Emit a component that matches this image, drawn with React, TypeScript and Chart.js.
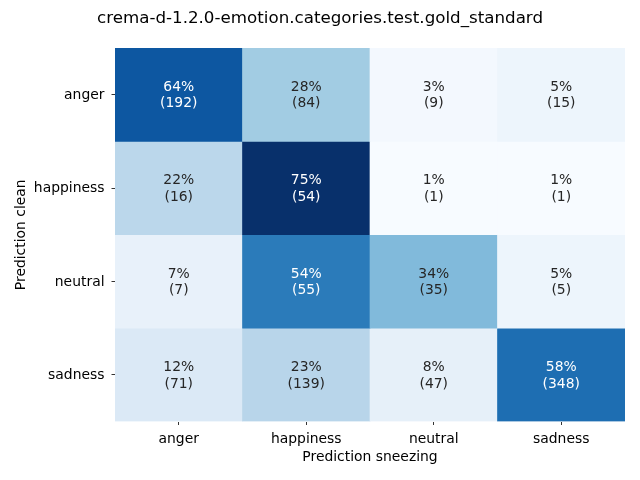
import React, { useEffect, useRef } from "react";
import { Chart, registerables } from "chart.js";

Chart.register(...registerables);

const TITLE = "crema-d-1.2.0-emotion.categories.test.gold_standard";
const X_TITLE = "Prediction sneezing";
const Y_TITLE = "Prediction clean";
const ROW_LABELS = ["anger", "happiness", "neutral", "sadness"];
const COL_LABELS = ["anger", "happiness", "neutral", "sadness"];
const COUNTS_ANGER = [192, 84, 9, 15];
const COUNTS_HAPPINESS = [16, 54, 1, 1];
const COUNTS_NEUTRAL = [7, 55, 35, 5];
const COUNTS_SADNESS = [71, 139, 47, 348];
const COUNTS = [COUNTS_ANGER, COUNTS_HAPPINESS, COUNTS_NEUTRAL, COUNTS_SADNESS];

const FONT = "'DejaVu Sans', sans-serif";
const FS = 13.9;
const TITLE_FS = 16.7;

// matplotlib "Blues" colormap anchors
const BLUES = [
  [0xf7, 0xfb, 0xff],
  [0xde, 0xeb, 0xf7],
  [0xc6, 0xdb, 0xef],
  [0x9e, 0xca, 0xe1],
  [0x6b, 0xae, 0xd6],
  [0x42, 0x92, 0xc6],
  [0x21, 0x71, 0xb5],
  [0x08, 0x51, 0x9c],
  [0x08, 0x30, 0x6b],
];

function blues(t: number): number[] {
  const tt = Math.max(0, Math.min(1, t)) * (BLUES.length - 1);
  const i = Math.min(BLUES.length - 2, Math.floor(tt));
  const f = tt - i;
  return BLUES[i].map((c, k) => Math.round(c + (BLUES[i + 1][k] - c) * f));
}

function luminance(rgb: number[]): number {
  const lin = rgb.map((c) => {
    const v = c / 255;
    return v <= 0.03928 ? v / 12.92 : Math.pow((v + 0.055) / 1.055, 2.4);
  });
  return 0.2126 * lin[0] + 0.7152 * lin[1] + 0.0722 * lin[2];
}

const PROPS = COUNTS.map((row) => {
  const s = row.reduce((a, b) => a + b, 0);
  return row.map((v) => v / s);
});
const allProps = PROPS.flat();
const VMIN = Math.min(...allProps);
const VMAX = Math.max(...allProps);
const CELL_RGB = PROPS.map((row) => row.map((p) => blues((p - VMIN) / (VMAX - VMIN))));

const annotatePlugin = {
  id: "annotateCells",
  afterDatasetsDraw(chart: any) {
    const ctx = chart.ctx;
    ctx.save();
    ctx.font = `${FS}px ${FONT}`;
    ctx.textAlign = "center";
    ctx.textBaseline = "middle";
    chart.data.datasets.forEach((_ds: any, i: number) => {
      const meta = chart.getDatasetMeta(i);
      meta.data.forEach((bar: any, j: number) => {
        const { x, y, base } = bar.getProps(["x", "y", "base"], true);
        const cy = (y + base) / 2 + 0.8;
        const rgb = CELL_RGB[i][j];
        ctx.fillStyle = luminance(rgb) > 0.408 ? "#262626" : "#ffffff";
        ctx.fillText(`${Math.round(PROPS[i][j] * 100)}%`, x, cy - FS * 0.6);
        ctx.fillText(`(${COUNTS[i][j]})`, x, cy + FS * 0.6);
      });
    });
    ctx.restore();
  },
  afterDraw(chart: any) {
    const ctx = chart.ctx;
    const area = chart.chartArea;
    ctx.save();
    ctx.fillStyle = "#000000";
    ctx.textAlign = "center";
    ctx.textBaseline = "middle";
    ctx.font = `${TITLE_FS}px ${FONT}`;
    ctx.fillText(TITLE, chart.width / 2, 18.8);
    ctx.font = `${FS}px ${FONT}`;
    ctx.fillText(X_TITLE, (area.left + area.right) / 2, 457);
    ctx.translate(21, (area.top + area.bottom) / 2);
    ctx.rotate(-Math.PI / 2);
    ctx.fillText(Y_TITLE, 0, 0);
    ctx.restore();
  },
};

export default function App() {
  const ref = useRef<HTMLCanvasElement>(null);
  useEffect(() => {
    if (!ref.current) return;
    const chart = new Chart(ref.current, {
      type: "bar",
      data: {
        labels: COL_LABELS,
        datasets: COUNTS.map((row, i) => ({
          label: ROW_LABELS[i],
          data: row.map(() => 1),
          backgroundColor: CELL_RGB[i].map((c) => `rgb(${c[0]},${c[1]},${c[2]})`),
          borderWidth: 0,
          barPercentage: 1,
          categoryPercentage: 1,
        })),
      },
      options: {
        responsive: false,
        animation: false,
        layout: { padding: { top: 48, right: 15, left: 0, bottom: 0 } },
        plugins: {
          legend: { display: false },
          tooltip: { enabled: false },
          title: { display: false },
        },
        scales: {
          x: {
            stacked: true,
            grid: {
              offset: false,
              drawOnChartArea: false,
              tickLength: 3.5,
              tickColor: "#000000",
              tickWidth: 0.8,
            },
            border: { display: false },
            ticks: { font: { family: FONT, size: FS }, color: "#000000", padding: 6, maxRotation: 0 },
            afterFit: (s: any) => {
              s.height = 58.5;
            },
          },
          y: {
            stacked: true,
            min: 0,
            max: 4,
            reverse: true,
            grid: {
              drawOnChartArea: false,
              tickLength: 3.5,
              tickColor: "#000000",
              tickWidth: 0.8,
            },
            border: { display: false },
            afterBuildTicks: (s: any) => {
              s.ticks = ROW_LABELS.map((_l, i) => ({ value: i + 0.5 }));
            },
            ticks: {
              font: { family: FONT, size: FS },
              color: "#000000",
              padding: 7,
              labelOffset: 0.8,
              autoSkip: false,
              callback: (v: any) => ROW_LABELS[Math.floor(Number(v))],
            },
            afterFit: (s: any) => {
              s.width = 115;
            },
          },
        },
      },
      plugins: [annotatePlugin],
    });
    return () => chart.destroy();
  }, []);
  return (
    <div style={{ position: "fixed", left: 0, top: 0, width: 640, height: 480, background: "#ffffff" }}>
      <canvas ref={ref} width={640} height={480} />
    </div>
  );
}
